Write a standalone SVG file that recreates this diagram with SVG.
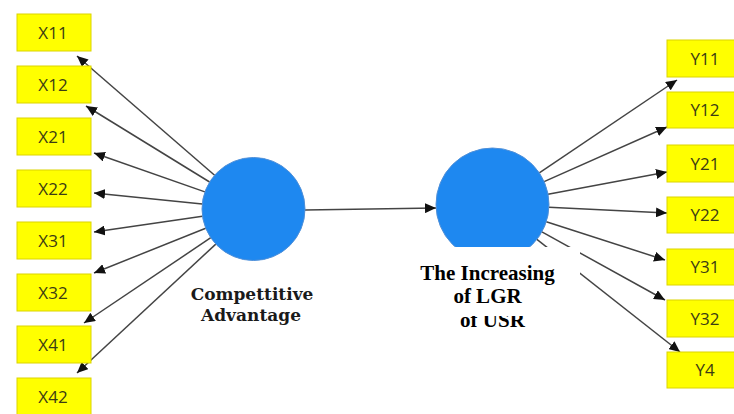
<svg xmlns="http://www.w3.org/2000/svg" width="734" height="414" viewBox="0 0 734 414">
  <defs>
    <marker id="arr" markerUnits="userSpaceOnUse" markerWidth="12" markerHeight="10" refX="11" refY="5" orient="auto">
      <path d="M0,0 L11,5 L0,10 Z" fill="#111"/>
    </marker>
    <style>
      .box rect { fill: #ffff00; stroke: #dcd400; stroke-width: 1; }
      .box text { font-family: "Open Sans", "Liberation Sans", sans-serif; font-size: 17px; fill: #3c3c14; text-anchor: middle; }
      .lv { fill: #1e88f0; stroke: #4f8fd8; stroke-width: 1; }
      .conn line { stroke: #444; stroke-width: 1.5; marker-end: url(#arr); }
      .lbl { font-family: "Liberation Serif", "Times New Roman", serif; font-weight: bold; font-size: 21px; fill: #000; text-anchor: middle; }
      .lbl2 { font-family: "DejaVu Serif", "Liberation Serif", serif; font-weight: bold; font-size: 17px; fill: #1a1a1a; text-anchor: middle; }
    </style>
  </defs>
  <rect width="734" height="414" fill="#fff"/>

  <g id="connectors" class="conn">
    <line x1="214.6" y1="175.3" x2="77" y2="56"/>
    <line x1="209.6" y1="182.0" x2="86" y2="106"/>
    <line x1="204.9" y1="191.9" x2="94" y2="153"/>
    <line x1="202.3" y1="203.9" x2="94" y2="193"/>
    <line x1="202.5" y1="216.3" x2="94" y2="232"/>
    <line x1="205.7" y1="228.2" x2="94" y2="273"/>
    <line x1="210.8" y1="237.7" x2="84" y2="323"/>
    <line x1="215.8" y1="244.1" x2="77" y2="373"/>
    <line x1="305" y1="210" x2="436" y2="208"/>
    <line x1="539.3" y1="172.9" x2="677" y2="80"/>
    <line x1="544.1" y1="181.6" x2="667" y2="127"/>
    <line x1="548.0" y1="194.2" x2="667" y2="172"/>
    <line x1="548.9" y1="207.3" x2="667" y2="213"/>
    <line x1="546.3" y1="221.8" x2="665" y2="260"/>
    <line x1="541.9" y1="231.9" x2="665" y2="300"/>
    <line x1="536.9" y1="239.4" x2="680" y2="352"/>
  </g>

  <g id="X11" class="box"><rect x="17" y="14" width="74" height="37"/><text x="53" y="38.5">X11</text></g>
  <g id="X12" class="box"><rect x="17" y="66" width="74" height="37"/><text x="53" y="90.5">X12</text></g>
  <g id="X21" class="box"><rect x="17" y="118" width="74" height="37"/><text x="53" y="142.5">X21</text></g>
  <g id="X22" class="box"><rect x="17" y="170" width="74" height="37"/><text x="53" y="194.5">X22</text></g>
  <g id="X31" class="box"><rect x="17" y="222" width="74" height="37"/><text x="53" y="246.5">X31</text></g>
  <g id="X32" class="box"><rect x="17" y="274" width="74" height="37"/><text x="53" y="298.5">X32</text></g>
  <g id="X41" class="box"><rect x="17" y="326" width="74" height="37"/><text x="53" y="350.5">X41</text></g>
  <g id="X42" class="box"><rect x="17" y="378" width="74" height="37"/><text x="53" y="402.5">X42</text></g>

  <g id="Y11" class="box"><rect x="667" y="40" width="74" height="37"/><text x="705" y="64.5">Y11</text></g>
  <g id="Y12" class="box"><rect x="667" y="92" width="74" height="36"/><text x="705" y="116">Y12</text></g>
  <g id="Y21" class="box"><rect x="667" y="145" width="74" height="37"/><text x="705" y="169.5">Y21</text></g>
  <g id="Y22" class="box"><rect x="667" y="197" width="74" height="36"/><text x="705" y="221">Y22</text></g>
  <g id="Y31" class="box"><rect x="667" y="249" width="74" height="36"/><text x="705" y="273">Y31</text></g>
  <g id="Y32" class="box"><rect x="667" y="300" width="74" height="37"/><text x="705" y="324.5">Y32</text></g>
  <g id="Y4" class="box"><rect x="667" y="352" width="74" height="36"/><text x="705" y="376">Y4</text></g>

  <g id="CompetitiveAdvantage">
    <circle class="lv" cx="253.5" cy="209" r="51.5"/>
    <text class="lbl2" x="252" y="300">Compettitive</text>
    <text class="lbl2" x="251" y="321">Advantage</text>
  </g>

  <g id="IncreasingLGR">
    <circle class="lv" cx="492.5" cy="204.5" r="56.5"/>
    <text class="lbl" x="492.5" y="327">of USR</text>
    <rect x="400" y="247" width="180" height="69" fill="#fff"/>
    <text class="lbl" x="487.5" y="280">The Increasing</text>
    <text class="lbl" x="487.5" y="303">of LGR</text>
  </g>
</svg>
